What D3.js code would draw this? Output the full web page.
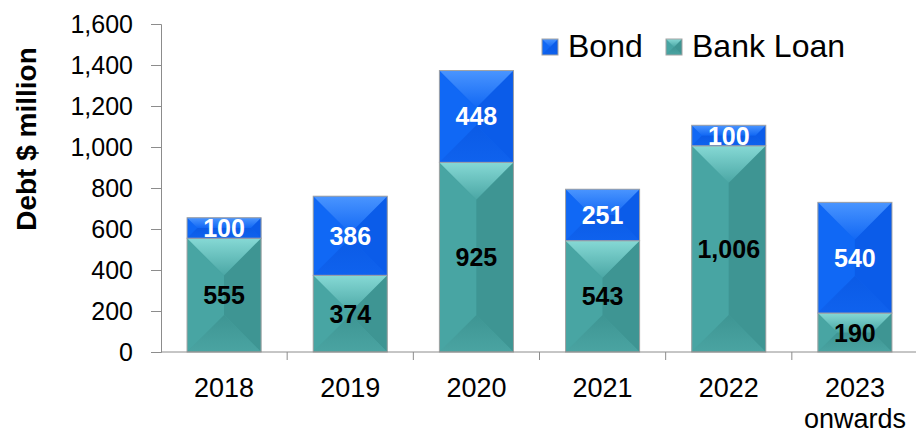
<!DOCTYPE html>
<html>
<head>
<meta charset="utf-8">
<script src="https://d3js.org/d3.v7.min.js"></script>
<style>
  body { margin: 0; background: #fff; }
  text { font-family: "Liberation Sans", Arial, sans-serif; }
</style>
</head>
<body>
<div id="chart"></div>
<script>
  // data
  var years = ["2018", "2019", "2020", "2021", "2022", "2023 onwards"];
  var bankLoan = [555, 374, 925, 543, 1006, 190];
  var bond = [100, 386, 448, 251, 100, 540];
  var yTicks = [0, 200, 400, 600, 800, 1000, 1200, 1400, 1600];

  var width = 916, height = 431;
  var plotLeft = 161, plotRight = 918, plotTop = 24, plotBottom = 352;

  var svg = d3.select("#chart").append("svg")
    .attr("width", width)
    .attr("height", height);

  var x = d3.scaleBand().domain(years).range([plotLeft, plotRight]).paddingInner(0.413).paddingOuter(0.2065);
  var y = d3.scaleLinear().domain([0, 1600]).range([plotBottom, plotTop]);

  var colors = {
    bond: { key: "bond", base: "#0e63f1", top1: "#4a95ff", top2: "#1268f4", left: "#1068f5", right: "#0b5ce9", bot1: "#0b5be6", bot2: "#0f62ee" },
    bank: { key: "bank", base: "#44a09e", top1: "#86d9d5", top2: "#4ba7a5", left: "#48a5a3", right: "#3e9593", bot1: "#3e9593", bot2: "#4aa4a2" }
  };

  // gradients for the bevel faces
  var defs = svg.append("defs");
  Object.keys(colors).forEach(function(k) {
    var c = colors[k];
    var gt = defs.append("linearGradient").attr("id", "top-" + k).attr("x1", 0).attr("y1", 0).attr("x2", 0).attr("y2", 1);
    gt.append("stop").attr("offset", 0).attr("stop-color", c.top1);
    gt.append("stop").attr("offset", 1).attr("stop-color", c.top2);
    var gb = defs.append("linearGradient").attr("id", "bot-" + k).attr("x1", 0).attr("y1", 0).attr("x2", 0).attr("y2", 1);
    gb.append("stop").attr("offset", 0).attr("stop-color", c.bot1);
    gb.append("stop").attr("offset", 1).attr("stop-color", c.bot2);
  });

  // stacked segments
  var rows = years.map(function(yr, i) {
    return { year: yr, bank: bankLoan[i], bond: bond[i] };
  });
  var series = d3.stack().keys(["bank", "bond"])(rows);

  // draw one bevelled block
  function bevel(g, x0, y0, w, h, c) {
    var d = Math.min(w, h) / 2;
    var x1 = x0 + w, y1 = y0 + h;
    g.append("rect").attr("x", x0).attr("y", y0).attr("width", w).attr("height", h).attr("fill", c.base);
    g.append("polygon").attr("fill", c.left)
      .attr("points", [[x0, y0], [x0 + d, y0 + d], [x0 + d, y1 - d], [x0, y1]].join(" "));
    g.append("polygon").attr("fill", c.right)
      .attr("points", [[x1, y0], [x1 - d, y0 + d], [x1 - d, y1 - d], [x1, y1]].join(" "));
    g.append("polygon").attr("fill", "url(#bot-" + c.key + ")")
      .attr("points", [[x0, y1], [x0 + d, y1 - d], [x1 - d, y1 - d], [x1, y1]].join(" "));
    g.append("polygon").attr("fill", "url(#top-" + c.key + ")")
      .attr("points", [[x0, y0], [x1, y0], [x1 - d, y0 + d], [x0 + d, y0 + d]].join(" "));
    g.append("rect").attr("x", x0).attr("y", y0).attr("width", w).attr("height", h)
      .attr("fill", "none").attr("stroke", "#a3a3a3").attr("stroke-width", 1);
  }

  var bars = svg.append("g");
  series.forEach(function(s) {
    var c = colors[s.key];
    s.forEach(function(d) {
      var yt = y(d[1]), yb = y(d[0]);
      bevel(bars, x(d.data.year), yt, x.bandwidth(), yb - yt, c);
    });
  });

  // value labels
  series.forEach(function(s) {
    s.forEach(function(d) {
      svg.append("text")
        .attr("x", x(d.data.year) + x.bandwidth() / 2)
        .attr("y", (y(d[0]) + y(d[1])) / 2)
        .attr("dy", "0.36em")
        .attr("text-anchor", "middle")
        .attr("font-size", 25)
        .attr("font-weight", "bold")
        .attr("fill", s.key === "bond" ? "#fff" : "#000")
        .text(d3.format(",")(d[1] - d[0]));
    });
  });

  // y axis
  var yAxis = svg.append("g")
    .attr("transform", "translate(" + plotLeft + ",0)")
    .call(d3.axisLeft(y).tickValues(yTicks).tickSize(10).tickPadding(18).tickFormat(d3.format(",")));
  yAxis.selectAll("text").attr("font-size", 25).attr("fill", "#000")
    .style("font-family", "'Liberation Sans', Arial, sans-serif");
  yAxis.selectAll("line, path").attr("stroke", "#8c8c8c");

  // x axis
  var xAxis = svg.append("g").attr("transform", "translate(0," + plotBottom + ")");
  xAxis.append("line").attr("x1", plotLeft).attr("x2", plotRight).attr("y1", 0).attr("y2", 0).attr("stroke", "#8c8c8c");
  var step = x.step();
  years.forEach(function(yr, i) {
    if (i > 0) {
      var tx = x(yr) - x.paddingInner() * step / 2;
      xAxis.append("line").attr("x1", tx).attr("x2", tx).attr("y1", 0).attr("y2", 8).attr("stroke", "#8c8c8c");
    }
    var words = yr.split(" ");
    var t = xAxis.append("text")
      .attr("x", x(yr) + x.bandwidth() / 2)
      .attr("y", 45)
      .attr("text-anchor", "middle")
      .attr("font-size", 27)
      .attr("fill", "#000");
    words.forEach(function(w, j) {
      t.append("tspan").attr("x", x(yr) + x.bandwidth() / 2).attr("dy", j === 0 ? 0 : 31).text(w);
    });
  });

  // y title
  svg.append("text")
    .attr("transform", "translate(36,139) rotate(-90)")
    .attr("text-anchor", "middle")
    .attr("font-size", 28)
    .attr("font-weight", "bold")
    .text("Debt $ million");

  // legend
  var legend = [
    { name: "Bond", c: colors.bond, x: 542 },
    { name: "Bank Loan", c: colors.bank, x: 666 }
  ];
  legend.forEach(function(l) {
    var g = svg.append("g");
    bevel(g, l.x, 39, 16, 16, l.c);
    svg.append("text").attr("x", l.x + 26).attr("y", 57)
      .attr("font-size", 32).attr("fill", "#000").text(l.name);
  });
</script>
</body>
</html>
